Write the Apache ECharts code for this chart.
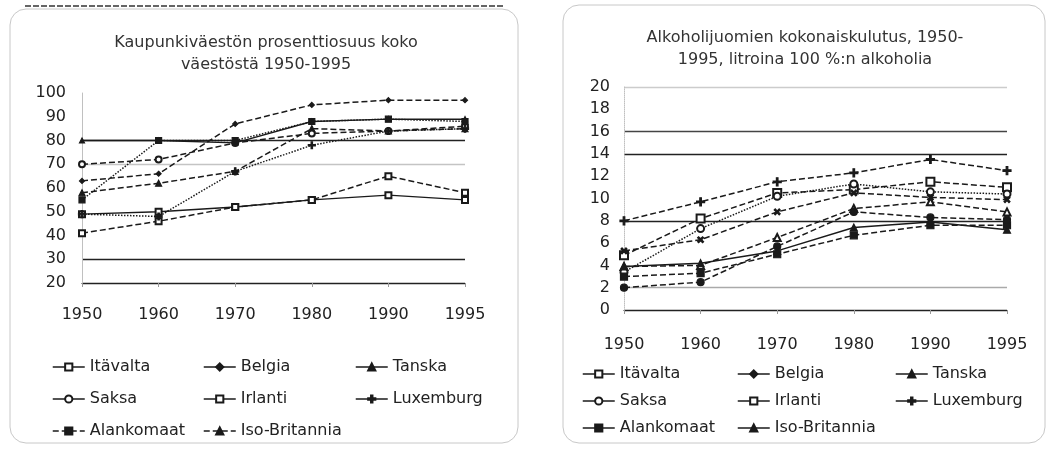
<!DOCTYPE html>
<html>
<head>
<meta charset="utf-8">
<script src="https://cdn.jsdelivr.net/npm/echarts@6/dist/echarts.min.js"></script>
<style>
html,body{margin:0;padding:0;background:#fff;}
#c{width:1049px;height:450px;}
</style>
</head>
<body>
<div id="c"></div>
<script>
// ---- data ----
const years = ['1950', '1960', '1970', '1980', '1990', '1995'];
const countries = ['Itävalta', 'Belgia', 'Tanska', 'Saksa', 'Irlanti', 'Luxemburg', 'Alankomaat', 'Iso-Britannia'];

// Kaupunkiväestön prosenttiosuus (%)
const urbanItavalta     = [49, 50, 52, 55, 57, 55];
const urbanBelgia       = [63, 66, 87, 95, 97, 97];
const urbanTanska       = [58, 62, 67, 85, 84, 85];
const urbanSaksa        = [70, 72, 79, 83, 84, 86];
const urbanIrlanti      = [41, 46, 52, 55, 65, 58];
const urbanLuxemburg    = [49, 48, 67, 78, 84, 85];
const urbanAlankomaat   = [55, 80, 80, 88, 89, 88];
const urbanIsoBritannia = [80, 80, 79, 88, 89, 89];

// Alkoholijuomien kokonaiskulutus (litroina 100 % alkoholia)
const alcItavalta     = [4.9, 8.2, 10.5, 10.8, 11.5, 11.0];
const alcBelgia       = [5.3, 6.3, 8.8, 10.5, 10.1, 9.9];
const alcTanska       = [3.9, 4.0, 6.5, 9.1, 9.7, 8.8];
const alcSaksa        = [3.4, 7.3, 10.2, 11.3, 10.6, 10.4];
const alcIrlanti      = [3.0, 3.3, 5.0, 6.7, 7.6, 7.6];
const alcLuxemburg    = [8.0, 9.7, 11.5, 12.3, 13.5, 12.5];
const alcAlankomaat   = [2.0, 2.5, 5.7, 8.8, 8.3, 8.1];
const alcIsoBritannia = [3.9, 4.2, 5.3, 7.4, 7.9, 7.2];

const urbanData = [urbanItavalta, urbanBelgia, urbanTanska, urbanSaksa, urbanIrlanti, urbanLuxemburg, urbanAlankomaat, urbanIsoBritannia];
const alcData = [alcItavalta, alcBelgia, alcTanska, alcSaksa, alcIrlanti, alcLuxemburg, alcAlankomaat, alcIsoBritannia];

// ---- styles ----
const INK = '#1a1a1a';
const PLUS = 'path://M4,0H6V4H10V6H6V10H4V6H0V4H4Z';
const leftStyles = [
  {symbol: 'emptyRect', size: 6, type: 'solid'},
  {symbol: 'diamond', size: 5, type: 'dashed'},
  {symbol: 'triangle', size: 6, type: 'dashed'},
  {symbol: 'emptyCircle', size: 6, type: 'dashed'},
  {symbol: 'emptyRect', size: 6, type: 'dashed'},
  {symbol: PLUS, size: 7, type: 'dotted'},
  {symbol: 'rect', size: 6, type: 'dotted'},
  {symbol: 'triangle', size: 5, type: 'solid'}
];
const rightStyles = [
  {symbol: 'emptyRect', size: 8, type: 'dashed'},
  {symbol: PLUS, size: 7, type: 'dashed', rotate: 45},
  {symbol: 'emptyTriangle', size: 7, type: 'dashed'},
  {symbol: 'emptyCircle', size: 7, type: 'dotted'},
  {symbol: 'rect', size: 7, type: 'dashed'},
  {symbol: PLUS, size: 8, type: 'dashed'},
  {symbol: 'circle', size: 7, type: 'dashed'},
  {symbol: 'triangle', size: 7, type: 'solid'}
];

const FONT = 'DejaVu Sans';
const T = 'rgba(0,0,0,0)';

function makeSeries(dataArr, styles, gi) {
  return dataArr.map((d, i) => ({
    type: 'line',
    name: countries[i],
    xAxisIndex: gi, yAxisIndex: gi,
    data: d,
    symbol: styles[i].symbol,
    symbolSize: styles[i].size,
    symbolRotate: styles[i].rotate || 0,
    showAllSymbol: true,
    lineStyle: {color: INK, width: 1.5, type: styles[i].type},
    itemStyle: {color: INK, borderColor: INK, borderWidth: 1.2},
    emphasis: {disabled: true},
    animation: false,
    z: 3
  }));
}

function legendCol(names, left, top, gap, dashedNames) {
  return {
    left: left, top: top, orient: 'vertical',
    data: names.map(n => ({name: n, lineStyle: {type: (dashedNames || []).indexOf(n) >= 0 ? 'dashed' : 'solid', width: 1.5}})),
    itemGap: gap, itemWidth: 32, itemHeight: 9,
    textStyle: {fontFamily: FONT, fontSize: 16, color: '#222'},
    selectedMode: false
  };
}

const chart = echarts.init(document.getElementById('c'), null, {renderer: 'canvas'});
chart.setOption({
  backgroundColor: '#fff',
  animation: false,
  graphic: [
    {type: 'rect', shape: {x: 10, y: 9, width: 508, height: 434, r: 16}, style: {fill: '#fff', stroke: '#c8c8c8', lineWidth: 1}, z: -10},
    {type: 'rect', shape: {x: 563, y: 5, width: 482, height: 438, r: 16}, style: {fill: '#fff', stroke: '#c8c8c8', lineWidth: 1}, z: -10},
    {type: 'line', shape: {x1: 25, y1: 6, x2: 503, y2: 6}, style: {stroke: '#333', lineWidth: 1.5, lineDash: [6, 2]}, z: -5},
    {type: 'text', x: 266, y: 43, style: {text: 'Kaupunkiväestön prosenttiosuus koko', textAlign: 'center', textVerticalAlign: 'middle', font: '16px "DejaVu Sans"', fill: '#333'}},
    {type: 'text', x: 266, y: 65, style: {text: 'väestöstä 1950-1995', textAlign: 'center', textVerticalAlign: 'middle', font: '16px "DejaVu Sans"', fill: '#333'}},
    {type: 'text', x: 805, y: 38, style: {text: 'Alkoholijuomien kokonaiskulutus, 1950-', textAlign: 'center', textVerticalAlign: 'middle', font: '16px "DejaVu Sans"', fill: '#333'}},
    {type: 'text', x: 805, y: 60, style: {text: '1995, litroina 100 %:n alkoholia', textAlign: 'center', textVerticalAlign: 'middle', font: '16px "DejaVu Sans"', fill: '#333'}}
  ],
  grid: [
    {left: 82, top: 93, width: 383, height: 190},
    {left: 624, top: 87, width: 383, height: 223}
  ],
  xAxis: [0, 1].map(gi => ({
    gridIndex: gi, type: 'category', data: years, boundaryGap: false,
    axisLine: {show: true, lineStyle: {color: '#222', width: 1.2}},
    axisTick: {show: true, length: 4, lineStyle: {color: '#999'}},
    axisLabel: {fontFamily: FONT, fontSize: 16, color: '#222', margin: gi === 0 ? 24 : 27},
    splitLine: {show: false}
  })),
  yAxis: [
    {gridIndex: 0, type: 'value', min: 20, max: 100, interval: 10,
     axisLine: {show: true, lineStyle: {color: '#c0c0c0'}},
     axisTick: {show: false},
     axisLabel: {fontFamily: FONT, fontSize: 16, color: '#222', margin: 16},
     splitLine: {show: true, lineStyle: {width: 1.3, color: ['#222', '#222', T, T, T, '#c4c4c4', '#222', T, T]}}},
    {gridIndex: 1, type: 'value', min: 0, max: 20, interval: 2,
     axisLine: {show: true, lineStyle: {color: '#c0c0c0', type: 'dotted'}},
     axisTick: {show: false},
     axisLabel: {fontFamily: FONT, fontSize: 16, color: '#222', margin: 14},
     splitLine: {show: true, lineStyle: {width: 1.3, color: ['#222', '#aaa', T, T, '#222', T, T, '#222', '#444', T, '#ccc']}}}
  ],
  legend: [
    legendCol(['Itävalta', 'Saksa', 'Alankomaat'], 47, 354, 16, ['Alankomaat']),
    legendCol(['Belgia', 'Irlanti', 'Iso-Britannia'], 198, 354, 16, ['Iso-Britannia']),
    legendCol(['Tanska', 'Luxemburg'], 350, 354, 16),
    legendCol(['Itävalta', 'Saksa', 'Alankomaat'], 577, 361, 11),
    legendCol(['Belgia', 'Irlanti', 'Iso-Britannia'], 732, 361, 11),
    legendCol(['Tanska', 'Luxemburg'], 890, 361, 11)
  ],
  series: makeSeries(urbanData, leftStyles, 0).concat(makeSeries(alcData, rightStyles, 1))
});
</script>
</body>
</html>
